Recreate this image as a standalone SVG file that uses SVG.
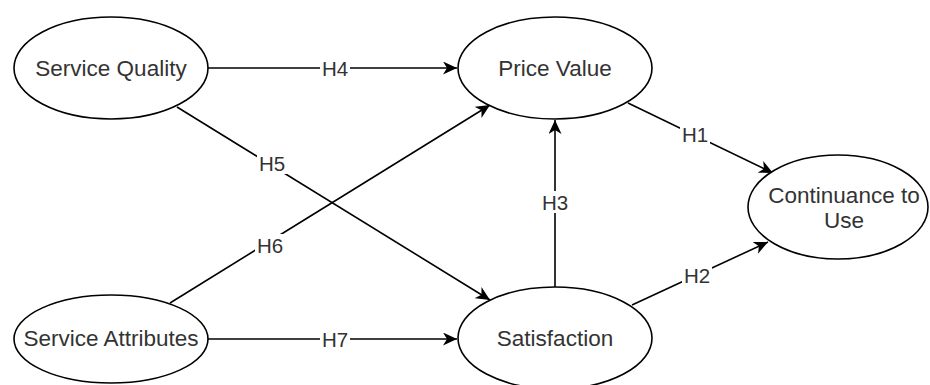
<svg xmlns="http://www.w3.org/2000/svg" width="930" height="385" viewBox="0 0 930 385">
<defs>
<style>
.node ellipse{fill:#fff;stroke:#000;stroke-width:1.6}
.node text{font-family:"Liberation Sans",Arial,sans-serif;font-size:22.5px;fill:#333;text-anchor:middle;dominant-baseline:central}
.edge line{stroke:#000;stroke-width:1.6}
.lbl rect{fill:#fff}
.lbl text{font-family:"Liberation Sans",Arial,sans-serif;font-size:20.5px;fill:#333;text-anchor:middle;dominant-baseline:central}
</style>
<marker id="arr" markerUnits="userSpaceOnUse" viewBox="0 0 15 13" refX="14" refY="6.5" markerWidth="15" markerHeight="13" orient="auto">
<path d="M0,0 L14,6.5 L0,13 L4,6.5 Z" fill="#000"/>
</marker>
</defs>
<rect width="930" height="385" fill="#fff"/>
<g id="connectors">
<g class="edge" id="e-h4"><line x1="208" y1="68" x2="457" y2="68" marker-end="url(#arr)"/></g>
<g class="edge" id="e-h7"><line x1="208" y1="339" x2="457" y2="339" marker-end="url(#arr)"/></g>
<g class="edge" id="e-h5"><line x1="177" y1="107" x2="490" y2="300" marker-end="url(#arr)"/></g>
<g class="edge" id="e-h6"><line x1="170" y1="303" x2="490" y2="105" marker-end="url(#arr)"/></g>
<g class="edge" id="e-h3"><line x1="555" y1="287" x2="555" y2="120" marker-end="url(#arr)"/></g>
<g class="edge" id="e-h1"><line x1="628" y1="103" x2="773" y2="173" marker-end="url(#arr)"/></g>
<g class="edge" id="e-h2"><line x1="632" y1="305" x2="768" y2="242" marker-end="url(#arr)"/></g>
<g class="lbl"><rect x="320" y="58" width="30" height="20"/><text x="335" y="68">H4</text></g>
<g class="lbl"><rect x="320" y="329" width="30" height="20"/><text x="335" y="339">H7</text></g>
<g class="lbl"><rect x="257" y="152" width="30" height="22"/><text x="272" y="163">H5</text></g>
<g class="lbl"><rect x="255" y="234" width="30" height="22"/><text x="270" y="245">H6</text></g>
<g class="lbl"><rect x="540" y="191" width="30" height="22"/><text x="555" y="202">H3</text></g>
<g class="lbl"><rect x="680" y="123" width="30" height="22"/><text x="695" y="134">H1</text></g>
<g class="lbl"><rect x="682" y="264" width="30" height="22"/><text x="697" y="275">H2</text></g>
</g>
<g class="node" id="n-service-quality"><ellipse cx="111" cy="68" rx="97" ry="51"/><text x="111" y="68">Service Quality</text></g>
<g class="node" id="n-price-value"><ellipse cx="555" cy="68" rx="97" ry="51"/><text x="555" y="68">Price Value</text></g>
<g class="node" id="n-service-attributes"><ellipse cx="111" cy="339" rx="97" ry="44"/><text x="111" y="338">Service Attributes</text></g>
<g class="node" id="n-satisfaction"><ellipse cx="555" cy="338" rx="97" ry="51"/><text x="555" y="338">Satisfaction</text></g>
<g class="node" id="n-continuance"><ellipse cx="838" cy="207" rx="90" ry="52"/><text x="844" y="195">Continuance to</text><text x="844" y="220">Use</text></g>
</svg>
